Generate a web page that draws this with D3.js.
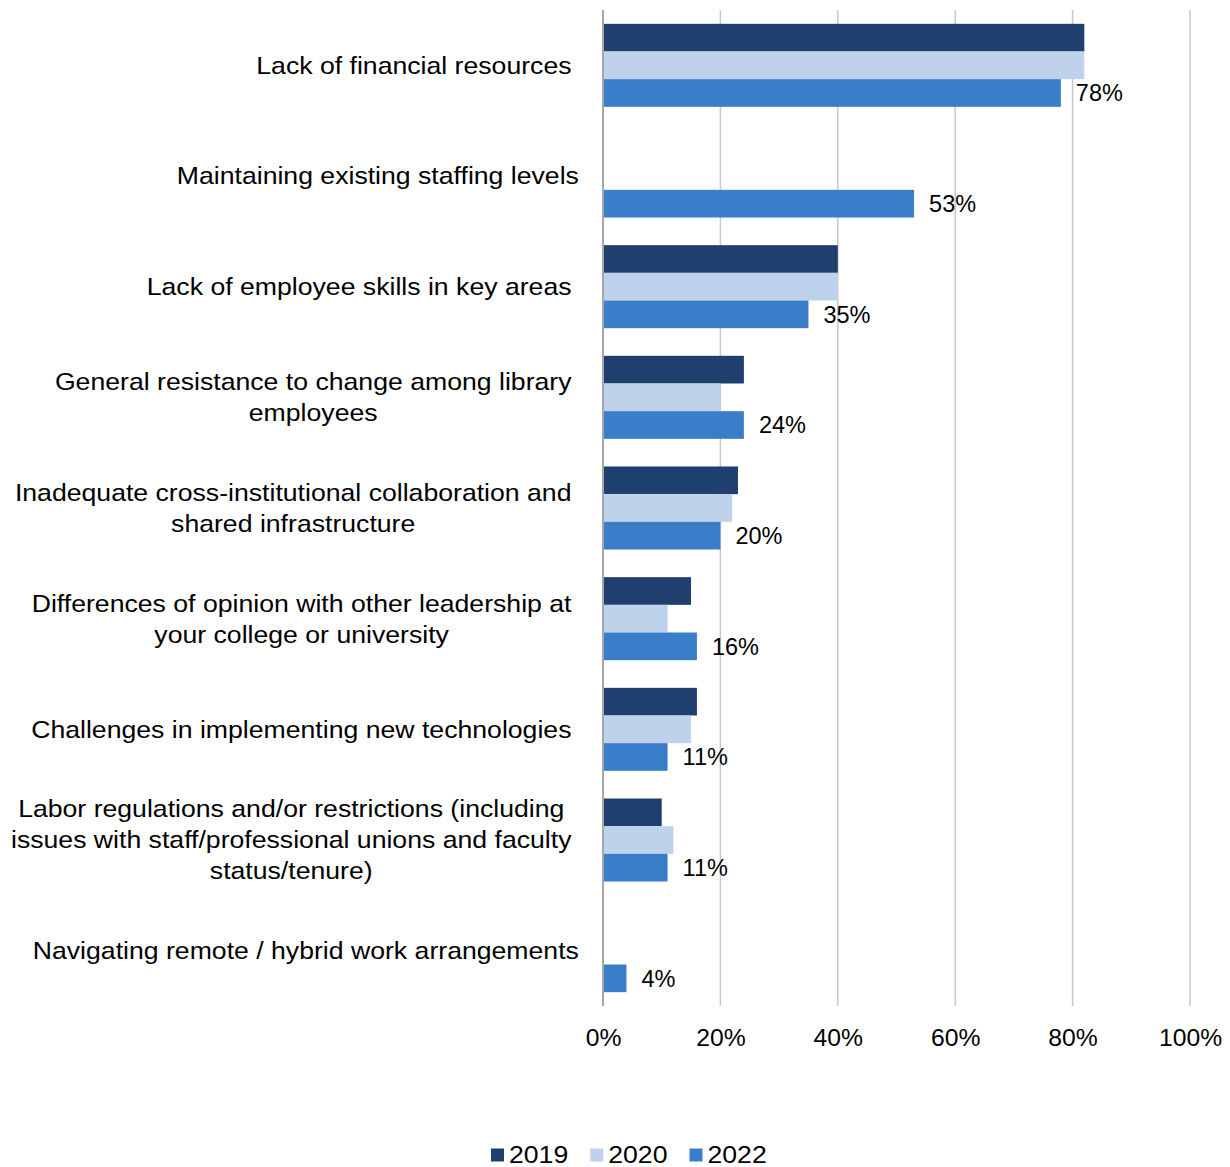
<!DOCTYPE html>
<html>
<head>
<meta charset="utf-8">
<script src="https://cdn.jsdelivr.net/npm/d3@7"></script>
<style>
  html, body { margin: 0; padding: 0; background: #fff; }
  svg text { font-family: "Liberation Sans", Arial, sans-serif; fill: #000; }
</style>
</head>
<body>
<svg id="chart" width="1230" height="1167"></svg>
<script>
// Category labels (line breaks as in the chart; trailing spaces kept)
const categories = [
  ["Lack of financial resources "],
  ["Maintaining existing staffing levels"],
  ["Lack of employee skills in key areas "],
  ["General resistance to change among library ", "employees "],
  ["Inadequate cross-institutional collaboration and ", "shared infrastructure "],
  ["Differences of opinion with other leadership at ", "your college or university "],
  ["Challenges in implementing new technologies "],
  ["Labor regulations and/or restrictions (including ", "issues with staff/professional unions and faculty ", "status/tenure) "],
  ["Navigating remote / hybrid work arrangements"]
];

const years = ["2019", "2020", "2022"];

// Percent of respondents; null = not asked that year
const values2019 = [82, null, 40, 24, 23, 15, 16, 10, null];
const values2020 = [82, null, 40, 20, 22, 11, 15, 12, null];
const values2022 = [78, 53, 35, 24, 20, 16, 11, 11, 4];

const xTicks = [0, 20, 40, 60, 80, 100];

const colors = ["#1F3F6E", "#BED3EB", "#3A7DC9"];

const series = [values2019, values2020, values2022];

const svg = d3.select("#chart");

const plot = { left: 603, right: 1190, top: 10, bottom: 1006 };

// Wide text rendering used for category and legend labels
const wideX = 1.11;

const x = d3.scaleLinear().domain([0, 100]).range([plot.left, plot.right]);

const y = d3.scaleBand()
  .domain(d3.range(categories.length))
  .range([plot.top, plot.bottom])
  .paddingInner(1 / 4)
  .paddingOuter(1 / 8);

const ySub = d3.scaleBand()
  .domain(years)
  .range([0, y.bandwidth()]);

// Vertical gridlines
svg.append("g")
  .selectAll("line")
  .data(xTicks.filter(t => t > 0))
  .join("line")
  .attr("x1", d => x(d)).attr("x2", d => x(d))
  .attr("y1", plot.top).attr("y2", plot.bottom)
  .attr("stroke", "#C8C8C8")
  .attr("stroke-width", 1.5);

// Bars
const groups = svg.append("g")
  .selectAll("g")
  .data(series)
  .join("g")
  .attr("fill", (d, i) => colors[i]);

groups.each(function (vals, si) {
  d3.select(this).selectAll("rect")
    .data(vals.map((v, ci) => ({ v, ci })).filter(d => d.v !== null))
    .join("rect")
    .attr("x", x(0))
    .attr("y", d => y(d.ci) + ySub(years[si]))
    .attr("width", d => x(d.v) - x(0))
    .attr("height", ySub.bandwidth());
});

// Value labels on 2022 bars
svg.append("g")
  .selectAll("text")
  .data(values2022)
  .join("text")
  .attr("x", d => x(d) + 15)
  .attr("y", (d, i) => y(i) + ySub("2022") + ySub.bandwidth() / 2)
  .attr("dy", "0.35em")
  .attr("font-size", 23.5)
  .text(d => d + "%");

// Y axis line
svg.append("line")
  .attr("x1", x(0)).attr("x2", x(0))
  .attr("y1", plot.top).attr("y2", plot.bottom)
  .attr("stroke", "#A6A6A6")
  .attr("stroke-width", 2);

// X axis tick labels
const xAxis = d3.axisBottom(x)
  .tickValues(xTicks)
  .tickFormat(d => d + "%")
  .tickSize(0)
  .tickPadding(0);

const xg = svg.append("g")
  .attr("transform", `translate(0, ${plot.bottom})`)
  .call(xAxis);
xg.select(".domain").remove();
xg.selectAll("text")
  .attr("y", 0)
  .attr("dy", "0.35em")
  .attr("font-size", 24)
  .attr("font-family", "'Liberation Sans', Arial, sans-serif")
  .attr("fill", "#000")
  .attr("transform", "translate(0,32) scale(1.03,1)");

// Category labels: block right-aligned, lines centred within the block
const labelRight = 572 + 7;
const lineH = 31;
const labelG = svg.append("g");
categories.forEach((lines, i) => {
  const g = labelG.append("g");
  const cy = y(i) + y.bandwidth() / 2;
  const texts = lines.map((ln, li) => g.append("text")
    .attr("font-size", 24)
    .attr("xml:space", "preserve")
    .style("white-space", "pre")
    .attr("text-anchor", "middle")
    .attr("dy", "0.35em")
    .text(ln));
  const widths = texts.map(t => t.node().getComputedTextLength() * wideX);
  const blockW = d3.max(widths);
  const center = labelRight - blockW / 2;
  texts.forEach((t, li) => {
    const ly = cy + (li - (lines.length - 1) / 2) * lineH;
    t.attr("transform", `translate(${center},${ly}) scale(${wideX},1)`);
  });
});

// Legend
const legend = svg.append("g").attr("transform", "translate(491, 1155)");
let lx = 0;
years.forEach((yr, i) => {
  const item = legend.append("g").attr("transform", `translate(${lx},0)`);
  item.append("rect")
    .attr("x", 0).attr("y", -6.5)
    .attr("width", 13).attr("height", 13)
    .attr("fill", colors[i]);
  const t = item.append("text")
    .attr("dy", "0.35em")
    .attr("font-size", 24)
    .attr("transform", `translate(18,0) scale(${wideX},1)`)
    .text(yr);
  lx += 18 + t.node().getComputedTextLength() * wideX + 22;
});
</script>
</body>
</html>
